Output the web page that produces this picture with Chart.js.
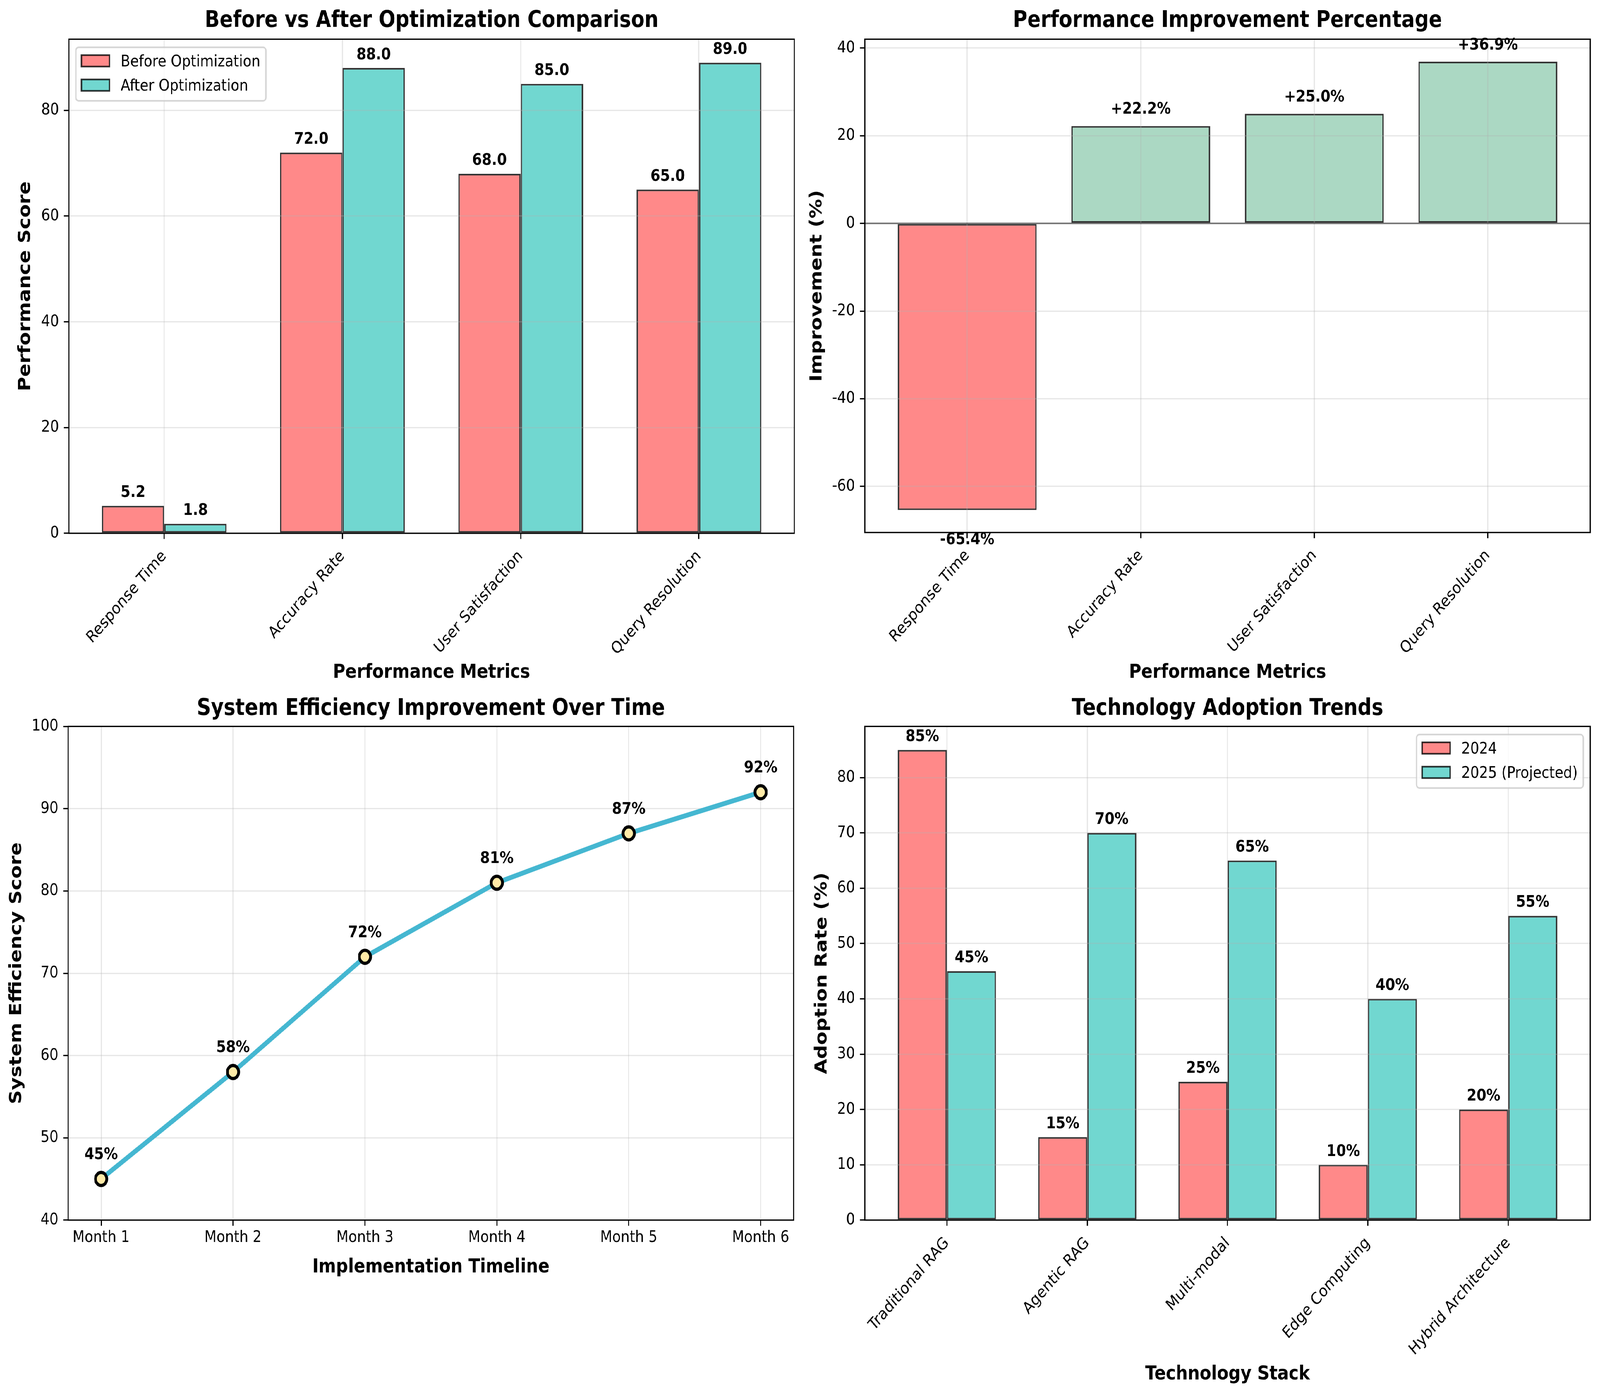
<!DOCTYPE html>
<html>
<head>
<meta charset="utf-8">
<title>RAG Optimization Dashboard</title>
<script src="https://cdn.jsdelivr.net/npm/chart.js@4.4.1/dist/chart.umd.min.js"></script>
<style>
html, body { margin:0; padding:0; background:#ffffff; overflow:hidden; }
#stage { position:absolute; left:0; top:0; width:4764px; height:3563px; transform-origin:0 0; background:#ffffff; }
canvas { position:absolute; display:block; }
</style>
</head>
<body>
<div id="stage">
<canvas id="chart1" width="2390" height="1750" style="left:0px;top:0px;width:2390px;height:1750px"></canvas>
<canvas id="chart2" width="2374" height="1750" style="left:2390px;top:0px;width:2374px;height:1750px"></canvas>
<canvas id="chart3" width="2390" height="1813" style="left:0px;top:1750px;width:2390px;height:1813px"></canvas>
<canvas id="chart4" width="2374" height="1813" style="left:2390px;top:1750px;width:2374px;height:1813px"></canvas>
</div>
<script>
// ---------------- data ----------------
const metrics = ['Response Time', 'Accuracy Rate', 'User Satisfaction', 'Query Resolution'];
const beforeScores = [5.2, 72.0, 68.0, 65.0];
const afterScores = [1.8, 88.0, 85.0, 89.0];
const improvementPct = [-65.4, 22.2, 25.0, 36.9];
const months = ['Month 1', 'Month 2', 'Month 3', 'Month 4', 'Month 5', 'Month 6'];
const efficiency = [45, 58, 72, 81, 87, 92];
const technologies = ['Traditional RAG', 'Agentic RAG', 'Multi-modal', 'Edge Computing', 'Hybrid Architecture'];
const adoption2024 = [85, 15, 25, 10, 20];
const adoption2025 = [45, 70, 65, 40, 55];
const scoreTicks = [0, 20, 40, 60, 80];
const improvementTicks = [-60, -40, -20, 0, 20, 40];
const efficiencyTicks = [40, 50, 60, 70, 80, 90, 100];
const adoptionTicks = [0, 10, 20, 30, 40, 50, 60, 70, 80];

// fit the 4764x3563 design into whatever viewport the page gets
(function fitStage() {
  const kx = window.innerWidth / 4764, ky = window.innerHeight / 3563;
  document.getElementById('stage').style.transform = `scale(${kx}, ${ky})`;
})();

// ---------------- style ----------------
const FONT = "'DejaVu Sans', 'Liberation Sans', sans-serif";
const PT = 300 / 72;
const FS_TICK = 10 * PT, FS_LABEL = 12 * PT, FS_TITLE = 14 * PT, FS_ANN = 10 * PT;
const GRID = 'rgba(176,176,176,0.3)';
const GRID_LW = 0.8 * PT, SPINE = 0.8 * PT, TICK_LEN = 3.5 * PT, TICK_PAD = 3.5 * PT;
const EDGE = 'rgba(0,0,0,0.8)', LW_EDGE = 1 * PT;
const RED = 'rgba(255,107,107,0.8)', TEAL = 'rgba(78,205,196,0.8)', GREEN = 'rgba(150,206,180,0.8)';

Chart.defaults.font.family = FONT;
Chart.defaults.color = '#000';

function marginLimits(lo, hi) { const d = hi - lo; return [lo - 0.05 * d, hi + 0.05 * d]; }

const base = { responsive: false, animation: false, devicePixelRatio: 1, events: [] };

function xAxisCfg(o) {
  return {
    type: 'linear', min: o.lim[0], max: o.lim[1], offset: false,
    afterBuildTicks: s => { s.ticks = o.labels.map((_, i) => ({ value: i })); },
    afterFit: s => { s.height = o.height; },
    ticks: {
      font: { size: FS_TICK }, color: '#000', padding: o.rotate ? 20 : 6, autoSkip: false,
      maxRotation: o.rotate ? 45 : 0, minRotation: o.rotate ? 45 : 0,
      callback: v => (o.labels[v] !== undefined ? o.labels[v] : '')
    },
    grid: { offset: false, color: GRID, lineWidth: GRID_LW, drawTicks: true, tickLength: TICK_LEN, tickColor: '#000', tickWidth: SPINE, z: o.gridZ },
    border: { display: false },
    title: { display: true, text: o.title, color: '#000', font: { size: FS_LABEL, weight: 'bold', lineHeight: 1 }, padding: { top: 0, bottom: o.titlePad } }
  };
}

function yAxisCfg(o) {
  return {
    type: 'linear', min: o.lim[0], max: o.lim[1],
    afterBuildTicks: s => { s.ticks = o.ticks.map(v => ({ value: v })); },
    afterFit: s => { s.width = o.width; },
    ticks: { font: { size: FS_TICK }, color: '#000', padding: TICK_PAD, callback: v => String(v) },
    grid: { color: GRID, lineWidth: GRID_LW, drawTicks: true, tickLength: TICK_LEN, tickColor: '#000', tickWidth: SPINE, z: o.gridZ },
    border: { display: false },
    title: { display: true, text: o.title, color: '#000', font: { size: FS_LABEL, weight: 'bold', lineHeight: 1 }, padding: { top: o.titlePad, bottom: 0 } }
  };
}

function titleCfg(text, top, bottom) {
  return { display: true, text, fullSize: false, color: '#000', font: { size: FS_TITLE, weight: 'bold', lineHeight: 1 }, padding: { top, bottom } };
}

function drawLegend(chart, side) {
  const { ctx, chartArea: a } = chart;
  const fs = FS_TICK;
  ctx.font = `${fs}px ${FONT}`;
  const items = chart.data.datasets.map(d => ({ text: d.label, fill: d.backgroundColor, edge: d.borderColor }));
  const pad = 0.4 * fs, hl = 2 * fs, hh = 0.7 * fs, htp = 0.8 * fs, ls = 0.5 * fs, bap = 0.5 * fs, rowH = 0.993 * fs;
  const tw = Math.max(...items.map(it => ctx.measureText(it.text).width));
  const w = 2 * pad + hl + htp + tw;
  const h = 2 * pad + items.length * rowH + (items.length - 1) * ls;
  const x0 = side === 'left' ? a.left + bap : a.right - bap - w;
  const y0 = a.top + bap;
  ctx.beginPath();
  ctx.roundRect(x0, y0, w, h, 0.2 * fs);
  ctx.fillStyle = 'rgba(255,255,255,0.8)';
  ctx.fill();
  ctx.lineWidth = 1 * PT;
  ctx.strokeStyle = 'rgba(204,204,204,0.8)';
  ctx.stroke();
  items.forEach((it, k) => {
    const top = y0 + pad + k * (rowH + ls);
    const sy = top + 0.43 * fs - hh / 2;
    ctx.fillStyle = it.fill;
    ctx.fillRect(x0 + pad, sy, hl, hh);
    ctx.lineWidth = LW_EDGE;
    ctx.strokeStyle = it.edge;
    ctx.strokeRect(x0 + pad, sy, hl, hh);
    ctx.fillStyle = '#000';
    ctx.textAlign = 'left';
    ctx.textBaseline = 'alphabetic';
    ctx.fillText(it.text, x0 + pad + hl + htp, top + 0.76 * fs);
  });
}

function decor(cfg) {
  return {
    id: 'decor',
    afterDraw(chart) {
      const { ctx, chartArea: a } = chart;
      const ys = chart.scales.y;
      ctx.save();
      if (cfg.zeroLine) {
        const y0 = ys.getPixelForValue(0);
        ctx.strokeStyle = 'rgba(0,0,0,0.5)';
        ctx.lineWidth = 1 * PT;
        ctx.beginPath(); ctx.moveTo(a.left, y0); ctx.lineTo(a.right, y0); ctx.stroke();
      }
      ctx.strokeStyle = '#000';
      ctx.lineWidth = SPINE;
      ctx.strokeRect(a.left, a.top, a.right - a.left, a.bottom - a.top);
      ctx.font = `bold ${FS_ANN}px ${FONT}`;
      ctx.fillStyle = '#000';
      ctx.textAlign = 'center';
      ctx.textBaseline = 'alphabetic';
      chart.data.datasets.forEach((ds, di) => {
        const meta = chart.getDatasetMeta(di);
        meta.data.forEach((el, i) => {
          const v = ds.data[i].y;
          ctx.fillText(cfg.fmt(v), el.x, cfg.labelY(v, ys, el));
        });
      });
      if (cfg.legend) drawLegend(chart, cfg.legend);
      ctx.restore();
    }
  };
}

const DESC = 0.21 * FS_ANN, ASC = 0.76 * FS_ANN;

// ---------------- chart 1 ----------------
new Chart(document.getElementById('chart1'), {
  type: 'bar',
  data: {
    datasets: [
      { label: 'Before Optimization', data: beforeScores.map((v, i) => ({ x: i, y: v })), backgroundColor: RED, borderColor: EDGE, borderWidth: LW_EDGE, borderSkipped: false, categoryPercentage: 0.7, barPercentage: 1.0 },
      { label: 'After Optimization', data: afterScores.map((v, i) => ({ x: i, y: v })), backgroundColor: TEAL, borderColor: EDGE, borderWidth: LW_EDGE, borderSkipped: false, categoryPercentage: 0.7, barPercentage: 1.0 }
    ]
  },
  options: {
    ...base,
    layout: { padding: { left: 0, top: 0, right: 25, bottom: 0 } },
    plugins: { legend: { display: false }, tooltip: { enabled: false }, title: titleCfg('Before vs After Optimization Comparison', 25, 17) },
    scales: {
      x: xAxisCfg({ labels: metrics, lim: marginLimits(-0.35, metrics.length - 1 + 0.35), height: 385, title: 'Performance Metrics', titlePad: 3, rotate: true, gridZ: 1 }),
      y: yAxisCfg({ ticks: scoreTicks, lim: [0, Math.max(...beforeScores, ...afterScores) * 1.05], width: 205, title: 'Performance Score', titlePad: 51, gridZ: 1 })
    }
  },
  plugins: [decor({ fmt: v => v.toFixed(1), labelY: (v, ys) => ys.getPixelForValue(v + 1) - DESC, legend: 'left' })]
});

// ---------------- chart 2 ----------------
new Chart(document.getElementById('chart2'), {
  type: 'bar',
  data: {
    datasets: [
      { label: 'Improvement', data: improvementPct.map((v, i) => ({ x: i, y: v })), backgroundColor: improvementPct.map(v => (v < 0 ? RED : GREEN)), borderColor: EDGE, borderWidth: LW_EDGE, borderSkipped: false, categoryPercentage: 0.8, barPercentage: 1.0 }
    ]
  },
  options: {
    ...base,
    layout: { padding: { left: 0, top: 0, right: 29, bottom: 0 } },
    plugins: { legend: { display: false }, tooltip: { enabled: false }, title: titleCfg('Performance Improvement Percentage', 25, 17) },
    scales: {
      x: xAxisCfg({ labels: metrics, lim: marginLimits(-0.4, metrics.length - 1 + 0.4), height: 387, title: 'Performance Metrics', titlePad: 3, rotate: true, gridZ: 1 }),
      y: yAxisCfg({ ticks: improvementTicks, lim: marginLimits(Math.min(...improvementPct), Math.max(...improvementPct)), width: 185, title: 'Improvement (%)', titlePad: 18, gridZ: 1 })
    }
  },
  plugins: [decor({
    zeroLine: true,
    fmt: v => (v >= 0 ? '+' : '') + v.toFixed(1) + '%',
    labelY: (v, ys) => (v >= 0 ? ys.getPixelForValue(v + 2) - DESC : ys.getPixelForValue(v - 5) + ASC)
  })]
});

// ---------------- chart 3 ----------------
new Chart(document.getElementById('chart3'), {
  type: 'line',
  data: {
    datasets: [
      { label: 'System Efficiency', data: efficiency.map((v, i) => ({ x: i, y: v })), borderColor: '#45B7D1', borderWidth: 3 * PT, tension: 0, fill: false,
        pointRadius: 4 * PT, pointBackgroundColor: '#FFEAA7', pointBorderColor: '#000000', pointBorderWidth: 2 * PT }
    ]
  },
  options: {
    ...base,
    layout: { padding: { left: 0, top: 0, right: 27, bottom: 0 } },
    plugins: { legend: { display: false }, tooltip: { enabled: false }, title: titleCfg('System Efficiency Improvement Over Time', 35.5, 15.5) },
    scales: {
      x: xAxisCfg({ labels: months, lim: marginLimits(0, months.length - 1), height: 440, title: 'Implementation Timeline', titlePad: 294, rotate: false, gridZ: -1 }),
      y: yAxisCfg({ ticks: efficiencyTicks, lim: [40, 100], width: 203, title: 'System Efficiency Score', titlePad: 25, gridZ: -1 })
    }
  },
  plugins: [decor({ fmt: v => v + '%', labelY: (v, ys, el) => el.y - 10 * PT - DESC })]
});

// ---------------- chart 4 ----------------
new Chart(document.getElementById('chart4'), {
  type: 'bar',
  data: {
    datasets: [
      { label: '2024', data: adoption2024.map((v, i) => ({ x: i, y: v })), backgroundColor: RED, borderColor: EDGE, borderWidth: LW_EDGE, borderSkipped: false, categoryPercentage: 0.7, barPercentage: 1.0 },
      { label: '2025 (Projected)', data: adoption2025.map((v, i) => ({ x: i, y: v })), backgroundColor: TEAL, borderColor: EDGE, borderWidth: LW_EDGE, borderSkipped: false, categoryPercentage: 0.7, barPercentage: 1.0 }
    ]
  },
  options: {
    ...base,
    layout: { padding: { left: 0, top: 0, right: 29, bottom: 0 } },
    plugins: { legend: { display: false }, tooltip: { enabled: false }, title: titleCfg('Technology Adoption Trends', 35.5, 15.5) },
    scales: {
      x: xAxisCfg({ labels: technologies, lim: marginLimits(-0.35, technologies.length - 1 + 0.35), height: 440, title: 'Technology Stack', titlePad: 20, rotate: true, gridZ: 1 }),
      y: yAxisCfg({ ticks: adoptionTicks, lim: [0, Math.max(...adoption2024, ...adoption2025) * 1.05], width: 185, title: 'Adoption Rate (%)', titlePad: 33, gridZ: 1 })
    }
  },
  plugins: [decor({ fmt: v => v + '%', labelY: (v, ys) => ys.getPixelForValue(v + 1) - DESC, legend: 'right' })]
});
</script>
</body>
</html>
